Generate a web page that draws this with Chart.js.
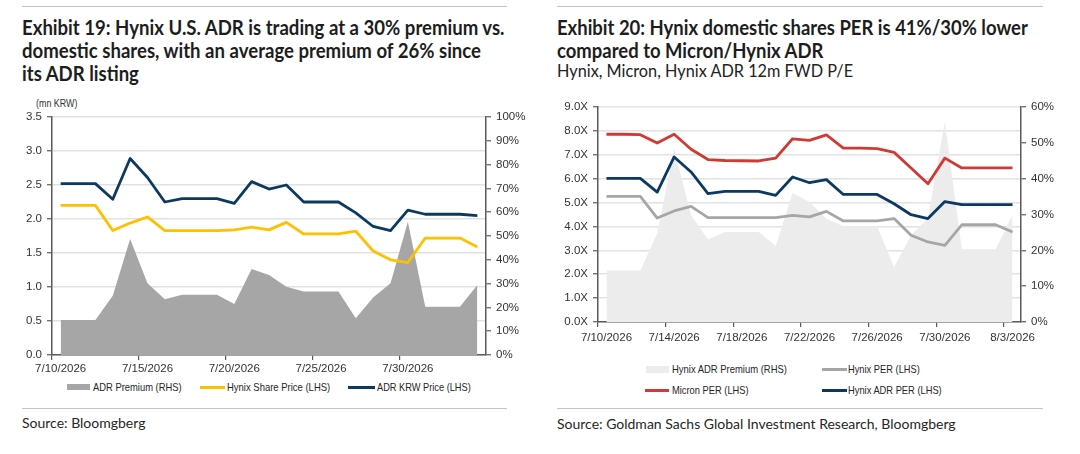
<!DOCTYPE html>
<html><head><meta charset="utf-8">
<script src="https://cdn.jsdelivr.net/npm/chart.js@4.4.1/dist/chart.umd.min.js"></script>
<style>
html,body{margin:0;padding:0;background:#fff;}
body{width:1080px;height:454px;position:relative;overflow:hidden;font-family:'Lato','Liberation Sans',sans-serif;color:#1d1d1d;}
.rule{position:absolute;height:1px;background:#c4c4c4;}
.title{position:absolute;font-weight:700;font-size:20px;line-height:23px;white-space:nowrap;transform-origin:0 0;}
.title span,.sub span{display:inline-block;}
.sub{position:absolute;font-weight:400;font-size:16.5px;line-height:20px;white-space:nowrap;transform-origin:0 0;color:#222;}
.src{position:absolute;font-size:14px;line-height:16px;color:#262626;white-space:nowrap;}
.unit{position:absolute;font-family:'Liberation Sans',sans-serif;font-size:10px;color:#333;white-space:nowrap;display:inline-block;transform-origin:0 0;}
.item{position:absolute;display:flex;align-items:center;white-space:nowrap;font-family:'Liberation Sans',sans-serif;font-size:11.5px;color:#262626;height:14px;}
.item .t{display:inline-block;transform-origin:0 50%;}
.sw{display:inline-block;margin-right:2px;}
.box{position:absolute;}
</style>
</head><body>

<div class="rule" style="left:22px;top:6px;width:485px"></div>
<div class="rule" style="left:557px;top:6px;width:486px"></div>

<div class="title fitb" data-w="483" style="left:22px;top:16px">
  <div><span>Exhibit 19: Hynix U.S. ADR is trading at a 30% premium vs.</span></div>
  <div><span>domestic shares, with an average premium of 26% since</span></div>
  <div><span>its ADR listing</span></div>
</div>
<div class="title fitb" data-w="471" style="left:557px;top:16px">
  <div><span>Exhibit 20: Hynix domestic shares PER is 41%/30% lower</span></div>
  <div><span>compared to Micron/Hynix ADR</span></div>
</div>
<div class="sub fitb" data-w="296" style="left:557px;top:61px"><span>Hynix, Micron, Hynix ADR 12m FWD P/E</span></div>

<div class="unit fit" data-w="41" style="left:36px;top:98px">(mn KRW)</div>

<div class="box" style="left:0;top:100px;width:540px;height:280px"><canvas id="c1"></canvas></div>
<div class="box" style="left:540px;top:90px;width:540px;height:260px"><canvas id="c2"></canvas></div>

<!-- legends -->
<div class="item" style="left:67px;top:380px"><span class="sw" style="width:23px;height:6px;background:#a6a6a6;margin-right:3px"></span><span class="t fit" data-w="89">ADR Premium (RHS)</span></div>
<div class="item" style="left:200px;top:380px"><span class="sw" style="width:25px;height:3px;background:#ffc000"></span><span class="t fit" data-w="103">Hynix Share Price (LHS)</span></div>
<div class="item" style="left:348px;top:380px"><span class="sw" style="width:27px;height:3px;background:#0c3961"></span><span class="t fit" data-w="94">ADR KRW Price (LHS)</span></div>

<div class="item" style="left:646px;top:362px"><span class="sw" style="width:23px;height:7px;background:#ececec;margin-right:3px"></span><span class="t fit" data-w="115">Hynix ADR Premium (RHS)</span></div>
<div class="item" style="left:822px;top:362px"><span class="sw" style="width:25px;height:3px;background:#a6a6a6;margin-right:1px"></span><span class="t fit" data-w="72">Hynix PER (LHS)</span></div>
<div class="item" style="left:645px;top:383px"><span class="sw" style="width:24px;height:3px;background:#d03a35;margin-right:3px"></span><span class="t fit" data-w="77">Micron PER (LHS)</span></div>
<div class="item" style="left:822px;top:383px"><span class="sw" style="width:25px;height:3px;background:#0c3961;margin-right:1px"></span><span class="t fit" data-w="94">Hynix ADR PER (LHS)</span></div>

<div class="rule" style="left:22px;top:408px;width:485px"></div>
<div class="rule" style="left:557px;top:408px;width:486px"></div>
<div class="src" style="left:22px;top:415px">Source: Bloomgberg</div>
<div class="src" style="left:557px;top:416px">Source: Goldman Sachs Global Investment Research, Bloomgberg</div>

<script>
// ---------- data ----------
const dates = ['7/10/2026','7/11/2026','7/12/2026','7/13/2026','7/14/2026','7/15/2026','7/16/2026','7/17/2026','7/18/2026','7/19/2026','7/20/2026','7/21/2026','7/22/2026','7/23/2026','7/24/2026','7/25/2026','7/26/2026','7/27/2026','7/28/2026','7/29/2026','7/30/2026','7/31/2026','8/1/2026','8/2/2026','8/3/2026'];

// Exhibit 19
const adrKrwPrice     = [2.52,2.52,2.52,2.29,2.89,2.61,2.25,2.30,2.30,2.30,2.23,2.55,2.44,2.50,2.25,2.25,2.25,2.09,1.89,1.83,2.13,2.07,2.07,2.07,2.05];
const hynixSharePrice = [2.20,2.20,2.20,1.83,1.94,2.03,1.83,1.83,1.83,1.83,1.84,1.88,1.84,1.95,1.78,1.78,1.78,1.82,1.53,1.40,1.36,1.72,1.72,1.72,1.59];
const adrPremium      = [14.7,14.7,14.7,24.9,48.7,30.1,23.4,25.3,25.3,25.3,21.4,36.1,33.6,28.7,26.7,26.7,26.7,15.4,24.2,30.1,56.0,20.3,20.3,20.3,29.4];
const leftTicksLHS = {min:0, max:3.5, step:0.5};
const leftTicksRHS = {min:0, max:100, step:10};
const leftLabelStep = 5;

// Exhibit 20
const micronPER       = [7.86,7.86,7.84,7.49,7.86,7.23,6.80,6.76,6.75,6.74,6.86,7.67,7.60,7.83,7.28,7.28,7.26,7.10,6.45,5.79,6.86,6.45,6.45,6.45,6.45];
const hynixAdrPER     = [6.01,6.01,6.01,5.44,6.91,6.28,5.37,5.47,5.47,5.47,5.30,6.07,5.83,5.96,5.34,5.34,5.34,4.95,4.49,4.33,5.04,4.91,4.91,4.91,4.91];
const hynixPER        = [5.26,5.26,5.26,4.35,4.65,4.84,4.37,4.37,4.37,4.37,4.37,4.46,4.40,4.63,4.23,4.23,4.23,4.33,3.63,3.35,3.21,4.07,4.07,4.07,3.77];
const hynixAdrPremium = [14.4,14.4,14.4,24.7,48.4,29.8,23.1,25.1,25.1,25.1,21.2,36.0,33.5,28.8,26.7,26.7,26.7,15.3,24.2,29.0,55.8,20.3,20.3,20.3,29.8];
const rightTicksLHS = {min:0, max:9, step:1};
const rightTicksRHS = {min:0, max:60, step:10};
const rightLabelStep = 4;

// ---------- styles ----------
const AXIS = '#5a5a5a', GRID = '#e2e2e2', TXT = '#333333';
const tickFont = {family:"'Liberation Sans',sans-serif", size:11.5};
const NAVY = '#0c3961', GOLD = '#ffc000', RED = '#d03a35', GREY = '#a6a6a6', LIGHT = '#ececec';
const CLEAR = 'rgba(0,0,0,0)';

function xAxis(step, height, pad){
  return {
    type:'category', offset:true,
    grid:{offset:true, drawOnChartArea:false, drawTicks:true, tickLength:5, lineWidth:1.2,
      color: c => (c.index !== undefined && c.index % step === 0) ? AXIS : CLEAR},
    border:{display:true, color:AXIS, width:1.5},
    ticks:{autoSkip:false, maxRotation:0, minRotation:0, padding:pad, color:TXT, font:tickFont,
      callback:(v,i) => (i % step === 0 ? dates[i] : '')},
    afterFit: s => { s.height = height; }
  };
}
function yAxis(t, pos, width, fmt, onArea){
  return {
    type:'linear', position:pos, min:t.min, max:t.max,
    ticks:{stepSize:t.step, padding:5, color:TXT, font:tickFont, callback:fmt},
    grid:{drawOnChartArea:onArea, color:GRID, lineWidth:1.5, tickColor:AXIS, tickWidth:1.2, tickLength:5},
    border:{display:true, color:AXIS, width:1.5},
    afterFit: s => { s.width = width; }
  };
}
function area(label, data, color){
  return {label, data, yAxisID:'y1', fill:'origin', backgroundColor:color, borderColor:CLEAR,
    borderWidth:0, pointRadius:0, tension:0, order:10};
}
function line(label, data, color, order){
  return {label, data, yAxisID:'y', fill:false, borderColor:color, borderWidth:2.8,
    pointRadius:0, tension:0, order, borderJoinStyle:'round', borderCapStyle:'butt'};
}
const common = {
  responsive:true, maintainAspectRatio:false, animation:false,
  plugins:{legend:{display:false}, tooltip:{enabled:false}}
};

new Chart(document.getElementById('c1'), {
  type:'line',
  data:{labels:dates, datasets:[
    area('ADR Premium (RHS)', adrPremium, GREY),
    line('Hynix Share Price (LHS)', hynixSharePrice, GOLD, 2),
    line('ADR KRW Price (LHS)', adrKrwPrice, NAVY, 1)
  ]},
  options:Object.assign({}, common, {
    layout:{padding:{top:17, left:0, right:0, bottom:0}},
    scales:{
      x: xAxis(leftLabelStep, 25, 2),
      y: yAxis(leftTicksLHS, 'left', 52, v => v.toFixed(1), true),
      y1: yAxis(leftTicksRHS, 'right', 54, v => v + '%', false)
    }
  })
});

new Chart(document.getElementById('c2'), {
  type:'line',
  data:{labels:dates, datasets:[
    area('Hynix ADR Premium (RHS)', hynixAdrPremium, LIGHT),
    line('Hynix PER (LHS)', hynixPER, GREY, 3),
    line('Micron PER (LHS)', micronPER, RED, 2),
    line('Hynix ADR PER (LHS)', hynixAdrPER, NAVY, 1)
  ]},
  options:Object.assign({}, common, {
    layout:{padding:{top:17, left:0, right:0, bottom:0}},
    scales:{
      x: xAxis(rightLabelStep, 28, 4),
      y: yAxis(rightTicksLHS, 'left', 58, v => v.toFixed(1) + 'X', true),
      y1: yAxis(rightTicksRHS, 'right', 59, v => v + '%', false)
    }
  })
});

// condense text horizontally to the reference widths (offsetWidth ignores transforms)
function fitAll(){
  document.querySelectorAll('.fitb').forEach(el => {
    const w = el.querySelector('span').offsetWidth;
    if (w > 0) el.style.transform = 'scaleX(' + (+el.dataset.w / w) + ')';
  });
  document.querySelectorAll('.fit').forEach(el => {
    const w = el.offsetWidth;
    if (w > 0) el.style.transform = 'scaleX(' + (+el.dataset.w / w) + ')';
  });
}
fitAll();
if (document.fonts && document.fonts.ready) document.fonts.ready.then(fitAll);
</script>
</body></html>
